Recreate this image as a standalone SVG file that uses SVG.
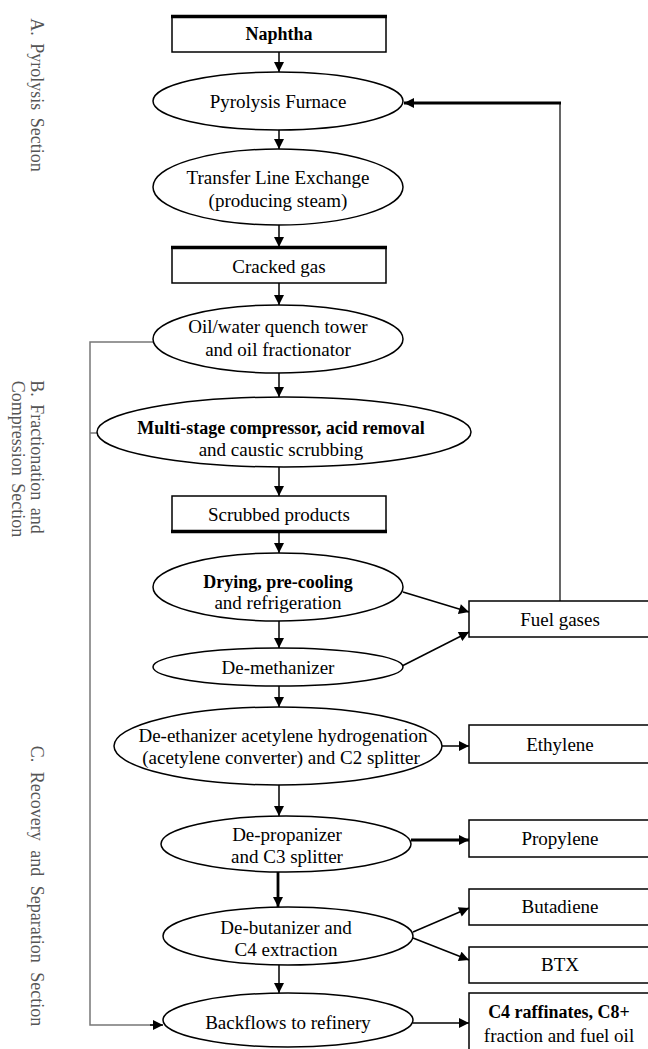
<svg xmlns="http://www.w3.org/2000/svg" width="648" height="1049" viewBox="0 0 648 1049">
<style>
  text { font-family: "Liberation Serif", "Times New Roman", serif; font-size: 19px; fill: #000; text-anchor: middle; }
  .b { font-weight: bold; font-size: 18px; }
  .side { font-size: 18px; fill: #555; text-anchor: middle; word-spacing: 3px; }
  .box { fill: #fff; stroke: #000; stroke-width: 1.5; }
  .ell { fill: #fff; stroke: #000; stroke-width: 1.5; }
  .thick { stroke: #000; stroke-width: 3.5; }
  .c { fill: none; stroke: #000; stroke-width: 1.5; }
  .ca { fill: none; stroke: #000; stroke-width: 1.5; marker-end: url(#ah); }
  .cb { fill: none; stroke: #000; stroke-width: 2.8; marker-end: url(#ah); }
  .cg { fill: none; stroke: #777; stroke-width: 1.5; }
</style>
<defs>
  <marker id="ah" viewBox="0 0 10 10" refX="10" refY="5" markerWidth="11" markerHeight="10" markerUnits="userSpaceOnUse" orient="auto">
    <path d="M0,0 L10,5 L0,10 z" fill="#000"/>
  </marker>
</defs>
<rect width="648" height="1049" fill="#fff"/>

<g id="side-labels">
  <text class="side" transform="translate(31,95) rotate(90)">A. Pyrolysis Section</text>
  <text class="side" transform="translate(31,457) rotate(90)">B. Fractionation and</text>
  <text class="side" transform="translate(12,459) rotate(90)">Compression Section</text>
  <text class="side" transform="translate(31,886) rotate(90)" style="word-spacing:5px">C. Recovery and Separation Section</text>
</g>

<g id="connectors">
  <line class="ca" x1="279" y1="52" x2="279" y2="72"/>
  <line class="ca" x1="279" y1="130" x2="279" y2="149"/>
  <line class="ca" x1="279" y1="225" x2="279" y2="247"/>
  <line class="ca" x1="279" y1="283" x2="279" y2="305"/>
  <line class="ca" x1="279" y1="373" x2="279" y2="397"/>
  <line class="ca" x1="279" y1="467" x2="279" y2="496"/>
  <line class="ca" x1="279" y1="532" x2="279" y2="553"/>
  <line class="ca" x1="403" y1="592" x2="469" y2="612"/>
  <line class="ca" x1="279" y1="621" x2="279" y2="648"/>
  <line class="ca" x1="402" y1="666" x2="469" y2="632"/>
  <line class="ca" x1="279" y1="686" x2="279" y2="707"/>
  <line class="ca" x1="442" y1="746" x2="469" y2="746"/>
  <line class="ca" x1="279" y1="785" x2="279" y2="816"/>
  <line class="cb" x1="411" y1="840" x2="469" y2="840"/>
  <line class="cb" x1="278" y1="872" x2="278" y2="907"/>
  <line class="ca" x1="413" y1="932" x2="469" y2="908"/>
  <line class="ca" x1="413" y1="938" x2="469" y2="960"/>
  <line class="ca" x1="279" y1="965" x2="279" y2="993"/>
  <line class="ca" x1="413" y1="1023" x2="469" y2="1023"/>
  <line class="c" x1="560" y1="601" x2="560" y2="103" style="stroke-width:1.2"/>
  <line class="cb" x1="561" y1="103" x2="404" y2="103"/>
  <polyline class="cg" points="153,342 90,342 90,1025 155,1025"/>
  <line class="ca" x1="150" y1="1025" x2="163" y2="1025"/>
  <line class="cg" x1="90" y1="433" x2="97" y2="433"/>
</g>

<g id="naphtha">
  <rect class="box" x="172" y="16" width="214" height="36"/>
  <line class="thick" x1="171" y1="16.5" x2="387" y2="16.5"/>
  <text class="b" x="279" y="40">Naphtha</text>
</g>

<g id="pyrolysis-furnace">
  <ellipse class="ell" cx="278" cy="101" rx="125" ry="29"/>
  <text x="278" y="108">Pyrolysis Furnace</text>
</g>

<g id="transfer-line-exchange">
  <ellipse class="ell" cx="278" cy="187" rx="125" ry="38"/>
  <text x="278" y="184">Transfer Line Exchange</text>
  <text x="278" y="207">(producing steam)</text>
</g>

<g id="cracked-gas">
  <rect class="box" x="172" y="247" width="214" height="36"/>
  <line class="thick" x1="171" y1="247.5" x2="387" y2="247.5"/>
  <text x="279" y="273">Cracked gas</text>
</g>

<g id="quench-tower">
  <ellipse class="ell" cx="278" cy="339" rx="125" ry="34"/>
  <text x="278" y="333">Oil/water quench tower</text>
  <text x="278" y="356">and oil fractionator</text>
</g>

<g id="compressor">
  <ellipse class="ell" cx="284" cy="432" rx="187" ry="35"/>
  <text class="b" x="281" y="434">Multi-stage compressor, acid removal</text>
  <text x="281" y="456">and caustic scrubbing</text>
</g>

<g id="scrubbed-products">
  <rect class="box" x="172" y="496" width="214" height="36"/>
  <line class="thick" x1="171" y1="531.5" x2="387" y2="531.5"/>
  <text x="279" y="521">Scrubbed products</text>
</g>

<g id="drying">
  <ellipse class="ell" cx="278" cy="587" rx="125" ry="34"/>
  <text class="b" x="278" y="588">Drying, pre-cooling</text>
  <text x="278" y="609">and refrigeration</text>
</g>

<g id="fuel-gases">
  <rect class="box" x="469" y="601" width="182" height="36"/>
  <text x="560" y="626">Fuel gases</text>
</g>

<g id="de-methanizer">
  <ellipse class="ell" cx="278" cy="667" rx="125" ry="19"/>
  <text x="278" y="674">De-methanizer</text>
</g>

<g id="de-ethanizer">
  <ellipse class="ell" cx="278" cy="746" rx="164" ry="39"/>
  <text x="283" y="742">De-ethanizer acetylene hydrogenation</text>
  <text x="281" y="764">(acetylene converter) and C2 splitter</text>
</g>

<g id="ethylene">
  <rect class="box" x="469" y="725" width="182" height="38"/>
  <text x="560" y="751">Ethylene</text>
</g>

<g id="de-propanizer">
  <ellipse class="ell" cx="286" cy="844" rx="125" ry="28"/>
  <text x="287" y="841">De-propanizer</text>
  <text x="287" y="863">and C3 splitter</text>
</g>

<g id="propylene">
  <rect class="box" x="469" y="820" width="182" height="37"/>
  <text x="560" y="845">Propylene</text>
</g>

<g id="de-butanizer">
  <ellipse class="ell" cx="288" cy="936" rx="125" ry="29"/>
  <text x="286" y="934">De-butanizer and</text>
  <text x="286" y="956">C4 extraction</text>
</g>

<g id="butadiene">
  <rect class="box" x="469" y="889" width="182" height="36"/>
  <text x="560" y="913">Butadiene</text>
</g>

<g id="btx">
  <rect class="box" x="469" y="947" width="182" height="36"/>
  <text x="560" y="971">BTX</text>
</g>

<g id="backflows">
  <ellipse class="ell" cx="288" cy="1020" rx="125" ry="27"/>
  <text x="288" y="1029">Backflows to refinery</text>
</g>

<g id="c4-raffinates">
  <rect class="box" x="469" y="993" width="182" height="62"/>
  <text class="b" x="559" y="1018">C4 raffinates, C8+</text>
  <text x="559" y="1042">fraction and fuel oil</text>
</g>
</svg>
